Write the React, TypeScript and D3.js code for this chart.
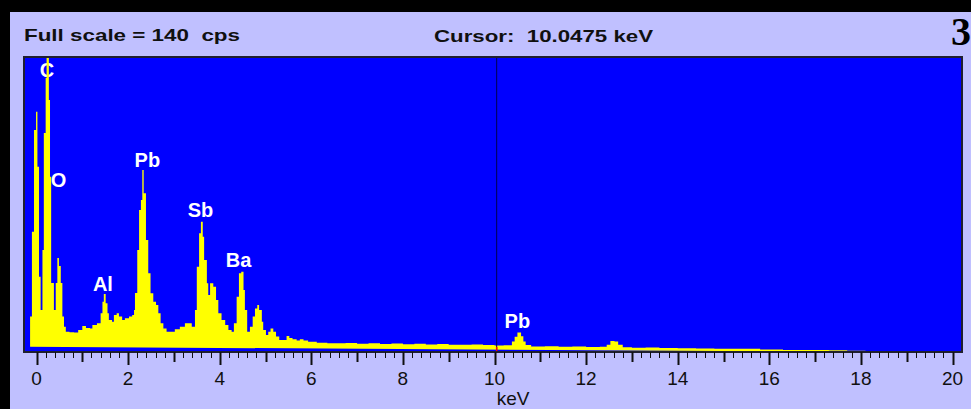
import React from "react";
import * as d3 from "d3";

// ---- data ----
const energyKeV: number[] = [
  -0.175, -0.14, -0.1, -0.055, -0.01, 0.02, 0.055, 0.09, 0.13, 0.16, 0.2, 0.22, 0.27, 0.295, 0.32, 0.38, 0.42, 0.455,
  0.49, 0.53, 0.565, 0.6, 0.64, 0.72, 0.82, 0.91, 1.0, 1.08, 1.17, 1.22, 1.32, 1.4, 1.44, 1.47, 1.51, 1.55, 1.58, 1.65,
  1.69, 1.75, 1.8, 1.87, 1.93, 2.02, 2.09, 2.13, 2.15, 2.2, 2.24, 2.28, 2.31, 2.34, 2.39, 2.44, 2.49, 2.55, 2.61, 2.66,
  2.71, 2.77, 2.84, 2.95, 3.02, 3.13, 3.24, 3.31, 3.39, 3.46, 3.5, 3.55, 3.59, 3.63, 3.66, 3.72, 3.75, 3.79, 3.86, 3.92,
  3.97, 4.04, 4.12, 4.19, 4.26, 4.31, 4.37, 4.42, 4.47, 4.52, 4.55, 4.6, 4.66, 4.72, 4.77, 4.82, 4.86, 4.92, 4.95, 5.01,
  5.06, 5.11, 5.17, 5.23, 5.3, 5.46, 5.52, 5.59, 5.68, 5.75, 5.83, 5.93, 6.12, 6.35, 6.55, 6.75, 7.0, 7.25, 7.5, 7.75,
  8.0, 8.25, 8.5, 8.75, 9.0, 9.25, 9.5, 9.75, 10.0, 10.2, 10.38, 10.44, 10.5, 10.58, 10.63, 10.68, 10.8, 11.1, 11.4,
  11.7, 12.0, 12.3, 12.45, 12.53, 12.62, 12.7, 12.8, 13.0, 13.3, 13.6, 14.0, 14.4, 14.8, 15.3, 15.8, 16.3, 16.8, 17.3,
  17.7, 18.1, 18.4, 18.6,
];
const countsCps: number[] = [
  2.5, 16.8, 57.1, 105.4, 114, 87.9, 35.7, 19.9, 48.4, 103.9, 130, 139.5, 119.6, 83.2, 32.7, 19.9, 32.7, 44.6,
  40.8, 32.7, 16.8, 12.0, 9.6, 9.4, 9.2, 10.4, 12.3, 11.4, 11.2, 12.8, 13.6, 18.4, 23.9, 27.5, 23.1, 18.4, 15.2, 14.4,
  17.6, 18.4, 16.8, 15.2, 16.0, 16.8, 17.6, 19.9, 28.0, 48.4, 67.4, 72.1, 86.4, 75.3, 53.2, 37.4, 27.9, 23.9, 22.3, 18.4,
  13.6, 11.2, 9.6, 9.6, 10.8, 12.0, 13.6, 13.6, 12.0, 19.9, 40.5, 56.3, 61.8, 54.7, 43.7, 32.6, 27.1, 32.6, 31.0, 24.7,
  18.4, 15.2, 12.8, 10.4, 9.6, 13.6, 26.2, 37.4, 38.1, 29.4, 19.9, 9.6, 12.0, 16.8, 20.7, 22.3, 19.9, 14.4, 10.4, 8.1,
  9.6, 11.2, 9.6, 7.3, 5.7, 7.6, 6.6, 6.0, 5.4, 6.0, 5.4, 4.9, 4.4, 4.2, 4.1, 4.3, 3.9, 4.2, 3.8, 4.0,
  3.7, 3.9, 3.6, 3.8, 3.5, 3.4, 3.6, 3.3, 3.1, 3.2, 5.0, 7.2, 9.2, 7.5, 5.0, 3.3, 2.6, 2.7, 2.5,
  2.6, 2.4, 2.5, 3.5, 5.2, 5.0, 3.5, 2.2, 2.0, 2.1, 1.9, 1.8, 1.7, 1.6, 1.5, 1.2, 1.0, 0.9,
  0.8, 0.6, 0.3, 0,
];
const peakNames: string[] = ["C", "O", "Al", "Pb", "Sb", "Ba", "Pb"];
const peakKeV: number[] = [0.23, 0.48, 1.45, 2.42, 3.58, 4.41, 10.5];
const peakLabelCps: number[] = [130.5, 78.3, 29, 87.9, 63.9, 40.5, 11.2];
const tickLabels: number[] = [0, 2, 4, 6, 8, 10, 12, 14, 16, 18, 20];
const fullScaleCps = 140;
const cursorKeV = 10.0475;
const headerLeft = "Full scale = 140  cps";
const headerCursor = "Cursor:  10.0475 keV";
const cornerNumber = "3";
const axisTitle = "keV";

export default function App() {
  const W = 971;
  const H = 409;
  const plot = { left: 24, top: 57, right: 962, bottom: 352 };

  const x = d3.scaleLinear().domain([0, 20]).range([36.5, 952.5]);
  const y = d3.scaleLinear().domain([0, fullScaleCps]).range([plot.bottom, plot.top]);

  const data = energyKeV.map((e, i) => ({ e, c: countsCps[i] }));
  const area = d3
    .area<{ e: number; c: number }>()
    .x((d) => x(d.e))
    .y0(plot.bottom)
    .y1((d) => y(d.c))
    .curve(d3.curveStepAfter);

  const minor = d3.range(0, 101).map((i) => i / 5);

  return (
    <svg
      width={W}
      height={H}
      style={{ position: "absolute", left: 0, top: 0, display: "block" }}
    >
      <rect x={0} y={0} width={W} height={H} fill="#000" />
      <rect x={10} y={12} width={W - 10} height={H - 12} fill="#C0C0FF" />
      <text
        x={24}
        y={41}
        fontFamily="Liberation Sans, Arial, sans-serif"
        fontWeight="bold"
        fontSize={17}
        fill="#101010"
        textLength={216}
        lengthAdjust="spacingAndGlyphs"
        style={{ whiteSpace: "pre" }}
      >
        {headerLeft}
      </text>
      <text
        x={434}
        y={41.5}
        fontFamily="Liberation Sans, Arial, sans-serif"
        fontWeight="bold"
        fontSize={17}
        fill="#101010"
        textLength={219}
        lengthAdjust="spacingAndGlyphs"
        style={{ whiteSpace: "pre" }}
      >
        {headerCursor}
      </text>
      <text
        x={971}
        y={45}
        textAnchor="end"
        fontFamily="Liberation Serif, Times New Roman, serif"
        fontWeight="bold"
        fontSize={40}
        fill="#000"
      >
        {cornerNumber}
      </text>

      <rect
        x={plot.left}
        y={plot.top}
        width={plot.right - plot.left}
        height={plot.bottom - plot.top}
        fill="#0000FF"
      />
      {peakNames.map((n, i) => (
        <text
          key={i}
          x={x(peakKeV[i])}
          y={y(peakLabelCps[i])}
          textAnchor="middle"
          fontFamily="Liberation Sans, Arial, sans-serif"
          fontWeight="bold"
          fontSize={20}
          fill="#FFFFFF"
        >
          {n}
        </text>
      ))}
      <path d={area(data) || ""} fill="#FFFF00" />
      <line
        x1={x(cursorKeV)}
        x2={x(cursorKeV)}
        y1={plot.top}
        y2={plot.bottom}
        stroke="#000050"
        strokeWidth={1}
      />
      <line
        x1={x(cursorKeV)}
        x2={x(cursorKeV)}
        y1={plot.bottom - 5}
        y2={plot.bottom - 1}
        stroke="#FF0000"
        strokeWidth={1.5}
      />
      <rect
        x={plot.left}
        y={plot.top}
        width={plot.right - plot.left}
        height={plot.bottom - plot.top}
        fill="none"
        stroke="#202030"
        strokeWidth={2}
      />

      {minor.map((v, i) => {
        const isMajor = i % 10 === 0;
        const isMid = i % 5 === 0;
        const len = isMajor ? 13 : isMid ? 10 : 6;
        return (
          <line
            key={i}
            x1={Math.round(x(v)) + 0.5}
            x2={Math.round(x(v)) + 0.5}
            y1={plot.bottom}
            y2={plot.bottom + len}
            stroke="#101010"
            strokeWidth={isMid ? 2 : 1}
          />
        );
      })}
      {tickLabels.map((t) => (
        <text
          key={t}
          x={x(t)}
          y={385}
          textAnchor="middle"
          fontFamily="Liberation Sans, Arial, sans-serif"
          fontSize={19}
          fill="#101010"
        >
          {t}
        </text>
      ))}
      <text
        x={513}
        y={405}
        textAnchor="middle"
        fontFamily="Liberation Sans, Arial, sans-serif"
        fontSize={19}
        fill="#101010"
      >
        {axisTitle}
      </text>
    </svg>
  );
}
